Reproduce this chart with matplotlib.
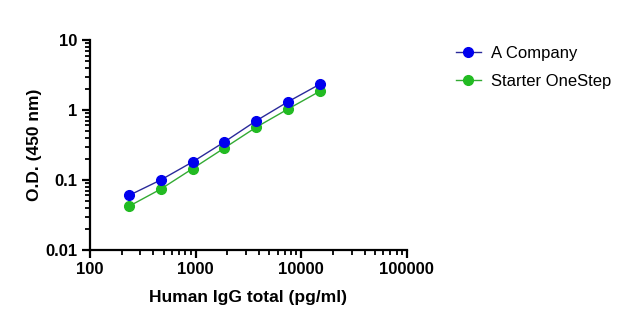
import matplotlib
matplotlib.use('Agg')
import matplotlib.pyplot as plt
from matplotlib.ticker import LogLocator, FixedFormatter, FixedLocator, NullFormatter

plt.rcParams['font.family'] = ['Liberation Sans', 'DejaVu Sans']

conc = [234, 469, 938, 1875, 3750, 7500, 15000]
a_company = [0.060, 0.100, 0.181, 0.349, 0.70, 1.31, 2.33]
starter = [0.042, 0.074, 0.145, 0.286, 0.566, 1.03, 1.85]

x_ticks = [100, 1000, 10000, 100000]
x_labels = ['100', '1000', '10000', '100000']
y_ticks = [0.01, 0.1, 1, 10]
y_labels = ['0.01', '0.1', '1', '10']

fig = plt.figure(figsize=(6.24, 3.25), dpi=100)
ax = fig.add_axes([0.144, 0.231, 0.508, 0.646])

ax.plot(conc, a_company, color='#2a2a9a', lw=1.0, marker='o', ms=7,
        mfc='#0000ee', mec='#0000ee', label='A Company', zorder=3)
ax.plot(conc, starter, color='#33aa33', lw=1.0, marker='o', ms=7,
        mfc='#22bb22', mec='#22bb22', label='Starter OneStep', zorder=2)

ax.set_xscale('log')
ax.set_yscale('log')
ax.set_xlim(100, 100000)
ax.set_ylim(0.01, 10)

ax.xaxis.set_major_locator(FixedLocator(x_ticks))
ax.xaxis.set_major_formatter(FixedFormatter(x_labels))
ax.yaxis.set_major_locator(FixedLocator(y_ticks))
ax.yaxis.set_major_formatter(FixedFormatter(y_labels))
ax.xaxis.set_minor_locator(LogLocator(base=10, subs=range(2, 10)))
ax.yaxis.set_minor_locator(LogLocator(base=10, subs=range(2, 10)))
ax.xaxis.set_minor_formatter(NullFormatter())
ax.yaxis.set_minor_formatter(NullFormatter())

for s in ['top', 'right']:
    ax.spines[s].set_visible(False)
for s in ['left', 'bottom']:
    ax.spines[s].set_linewidth(1.6)

ax.tick_params(which='major', length=6, width=1.6, labelsize=12, pad=3)
ax.tick_params(which='minor', length=3.5, width=1.3)
for lab in ax.get_xticklabels() + ax.get_yticklabels():
    lab.set_fontweight('bold')

ax.set_xlabel('Human IgG total (pg/ml)', fontsize=12.5, fontweight='bold', labelpad=9)
ax.set_ylabel('O.D. (450 nm)', fontsize=12.5, fontweight='bold', labelpad=2)

fig.legend(loc='upper left', bbox_to_anchor=(0.706, 0.905), frameon=False,
           fontsize=12, handlelength=1.5, handletextpad=0.6, labelspacing=0.8)

fig.savefig('out.png', dpi=100)
